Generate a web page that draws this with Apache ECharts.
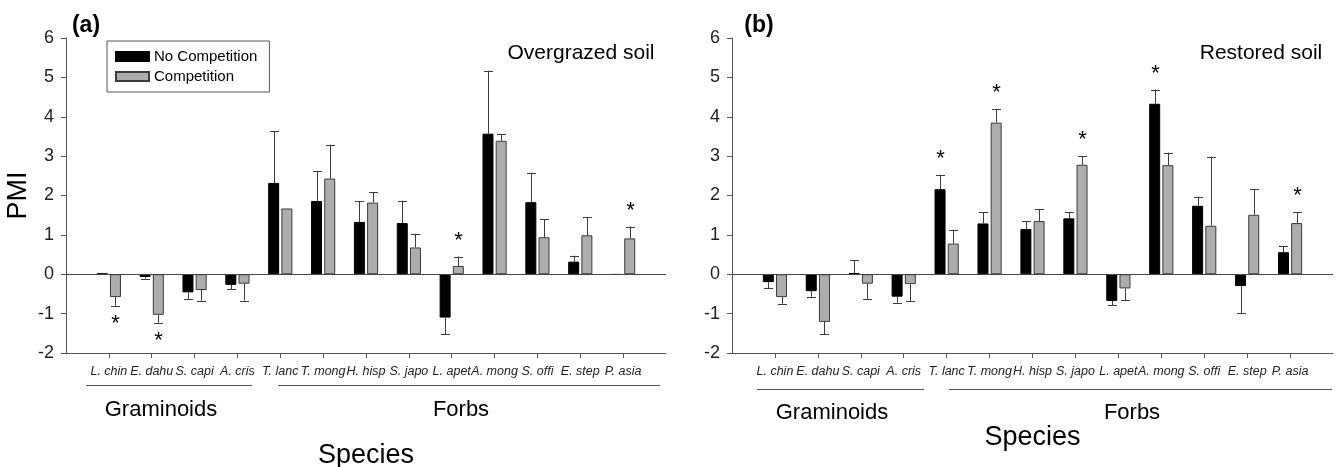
<!DOCTYPE html>
<html>
<head>
<meta charset="utf-8">
<script src="https://cdn.jsdelivr.net/npm/echarts@6/dist/echarts.min.js"></script>
<style>
  html, body { margin: 0; padding: 0; background: #fff; }
  #chart { width: 1337px; height: 467px; }
</style>
</head>
<body>
<div id="chart"></div>
<script>
// species (x positions 1..13)
var species = ['L. chin', 'E. dahu', 'S. capi', 'A. cris', 'T. lanc', 'T. mong', 'H. hisp',
               'S. japo', 'L. apet', 'A. mong', 'S. offi', 'E. step', 'P. asia'];

// (a) overgrazed soil
var aNoComp   = [0.02, -0.07, -0.46, -0.27, 2.32, 1.86, 1.33, 1.30, -1.10, 3.57, 1.83, 0.32, -0.01];
var aNoCompSE = [0, 0.04, 0.18, 0.11, 1.32, 0.75, 0.53, 0.57, 0.43, 1.60, 0.75, 0.15, 0];
var aComp     = [-0.58, -1.03, -0.40, -0.24, 1.67, 2.43, 1.82, 0.68, 0.21, 3.39, 0.94, 0.99, 0.91];
var aCompSE   = [0.22, 0.20, 0.27, 0.43, 0, 0.86, 0.26, 0.35, 0.24, 0.16, 0.46, 0.46, 0.30];
var aNoCompStar = [0, 0, 0, 0, 0, 0, 0, 0, 0, 0, 0, 0, 0];
var aCompStar   = [1, 1, 0, 0, 0, 0, 0, 0, 1, 0, 0, 0, 1];

// (b) restored soil
var bNoComp   = [-0.20, -0.43, 0.03, -0.57, 2.16, 1.29, 1.15, 1.42, -0.68, 4.33, 1.74, -0.30, 0.56];
var bNoCompSE = [0.16, 0.14, 0.33, 0.15, 0.37, 0.28, 0.19, 0.16, 0.11, 0.36, 0.23, 0.69, 0.16];
var bComp     = [-0.58, -1.21, -0.24, -0.25, 0.78, 3.85, 1.35, 2.78, -0.36, 2.77, 1.23, 1.51, 1.30];
var bCompSE   = [0.17, 0.32, 0.40, 0.43, 0.35, 0.35, 0.31, 0.22, 0.30, 0.32, 1.76, 0.65, 0.28];
var bNoCompStar = [0, 0, 0, 0, 1, 0, 0, 0, 0, 1, 0, 0, 0];
var bCompStar   = [0, 0, 0, 0, 0, 1, 0, 1, 0, 0, 0, 0, 1];

var FONT = 'Liberation Sans, Arial, sans-serif';
var GREY = '#adadad';
var EDGE = '#3c3c3c';

function barData(vals) {
    return vals.map(function (v, i) { return [i + 1, v]; });
}
function errData(vals, se, star) {
    return vals.map(function (v, i) { return [i + 1, v, se[i], star[i]]; });
}

// one-sided error bars + significance stars
function errItem(side) {
    return function (params, api) {
        var x = api.value(0), m = api.value(1), se = api.value(2), star = api.value(3);
        var dir = m < 0 ? -1 : 1;
        var base = api.coord([x, m]);
        var tip = api.coord([x, m + dir * se]);
        var cx = Math.round(base[0] + side * 6.6) + 0.5;
        var st = { stroke: EDGE, lineWidth: 1 };
        var kids = [];
        if (se > 0) {
            kids.push({ type: 'line', shape: { x1: cx, y1: base[1], x2: cx, y2: tip[1] }, style: st });
            kids.push({ type: 'line', shape: { x1: cx - 4.5, y1: Math.round(tip[1]) + 0.5, x2: cx + 4.5, y2: Math.round(tip[1]) + 0.5 }, style: st });
        }
        if (star) {
            kids.push({
                type: 'text',
                style: {
                    text: '*', x: cx, y: tip[1] + (dir > 0 ? -16 : 18),
                    align: 'center', verticalAlign: 'middle',
                    fontSize: 22, fontFamily: FONT, fill: '#000'
                }
            });
        }
        return { type: 'group', children: kids };
    };
}

function xAxisOpt(idx, gap) {
    return {
        type: 'value', gridIndex: idx, min: 0, max: 14, interval: 1,
        name: 'Species', nameLocation: 'middle', nameGap: gap,
        nameTextStyle: { fontSize: 27, color: '#000', fontFamily: FONT },
        axisLine: { onZero: false, lineStyle: { color: '#555', width: 1 } },
        axisTick: { customValues: [1, 2, 3, 4, 5, 6, 7, 8, 9, 10, 11, 12, 13], length: 5, lineStyle: { color: '#555' } },
        axisLabel: {
            customValues: [1, 2, 3, 4, 5, 6, 7, 8, 9, 10, 11, 12, 13],
            formatter: function (v) { return species[v - 1] || ''; },
            fontStyle: 'italic', fontSize: 12.5, color: '#222', fontFamily: FONT, margin: 12
        },
        splitLine: { show: false }
    };
}

function yAxisOpt(idx, showName) {
    return {
        type: 'value', gridIndex: idx, min: -2, max: 6, interval: 1,
        name: showName ? 'PMI' : '', nameLocation: 'middle', nameGap: 34, nameRotate: 90,
        nameTextStyle: { fontSize: 27, color: '#000', fontFamily: FONT },
        axisLine: { show: true, onZero: false, lineStyle: { color: '#555', width: 1 } },
        axisTick: { show: true, length: 5, lineStyle: { color: '#555' } },
        axisLabel: { fontSize: 18, color: '#222', fontFamily: FONT, margin: 12 },
        splitLine: { show: false }
    };
}

function panelSeries(idx, nc, ncSE, ncStar, c, cSE, cStar) {
    return [
        {
            name: 'No Competition', type: 'bar', xAxisIndex: idx, yAxisIndex: idx,
            data: barData(nc), barWidth: 11, barGap: '20%',
            itemStyle: { color: '#000', borderColor: '#000', borderWidth: 1 },
            markLine: {
                silent: true, symbol: 'none', label: { show: false },
                lineStyle: { color: '#444', type: 'solid', width: 1 },
                data: [{ yAxis: 0 }]
            }
        },
        {
            name: 'Competition', type: 'bar', xAxisIndex: idx, yAxisIndex: idx,
            data: barData(c), barWidth: 11, barGap: '20%',
            itemStyle: { color: GREY, borderColor: EDGE, borderWidth: 1 }
        },
        {
            type: 'custom', xAxisIndex: idx, yAxisIndex: idx, z: 5,
            renderItem: errItem(-1), encode: { x: 0, y: 1 },
            data: errData(nc, ncSE, ncStar)
        },
        {
            type: 'custom', xAxisIndex: idx, yAxisIndex: idx, z: 5,
            renderItem: errItem(1), encode: { x: 0, y: 1 },
            data: errData(c, cSE, cStar)
        }
    ];
}

function txt(text, x, y, size, weight) {
    return {
        type: 'text', x: x, y: y,
        style: { text: text, fontSize: size, fontWeight: weight || 'normal', fontFamily: FONT,
                 fill: '#000', align: 'center', verticalAlign: 'middle' }
    };
}
function hline(x1, x2, y) {
    return { type: 'line', shape: { x1: x1, y1: y + 0.5, x2: x2, y2: y + 0.5 },
             style: { stroke: '#555', lineWidth: 1 } };
}

var chart = echarts.init(document.getElementById('chart'));

chart.setOption({
    animation: false,
    textStyle: { fontFamily: FONT },
    grid: [
        { left: 66, top: 38, width: 600, height: 315, outerBoundsMode: 'none', containLabel: false },
        { left: 732, top: 38, width: 601, height: 315, outerBoundsMode: 'none', containLabel: false }
    ],
    legend: {
        data: ['No Competition', 'Competition'],
        orient: 'vertical', left: 107, top: 41,
        itemWidth: 33, itemHeight: 9, itemGap: 5,
        icon: 'rect',
        borderColor: '#555', borderWidth: 1,
        padding: [8, 12, 8, 8],
        textStyle: { fontSize: 15, color: '#000', fontFamily: FONT }
    },
    xAxis: [xAxisOpt(0, 89), xAxisOpt(1, 71)],
    yAxis: [yAxisOpt(0, true), yAxisOpt(1, false)],
    series: panelSeries(0, aNoComp, aNoCompSE, aNoCompStar, aComp, aCompSE, aCompStar)
        .concat(panelSeries(1, bNoComp, bNoCompSE, bNoCompStar, bComp, bCompSE, bCompStar)),
    graphic: [
        txt('(a)', 86, 26, 23, 'bold'),
        txt('(b)', 759, 26, 23, 'bold'),
        txt('Overgrazed soil', 581, 53, 21),
        txt('Restored soil', 1261, 53, 21),
        hline(86, 252, 385),
        hline(278, 660, 385),
        hline(757, 924, 389),
        hline(949, 1332, 389),
        txt('Graminoids', 161, 410, 22),
        txt('Forbs', 461, 410, 22),
        txt('Graminoids', 832, 413, 22),
        txt('Forbs', 1132, 413, 22)
    ]
});
</script>
</body>
</html>
